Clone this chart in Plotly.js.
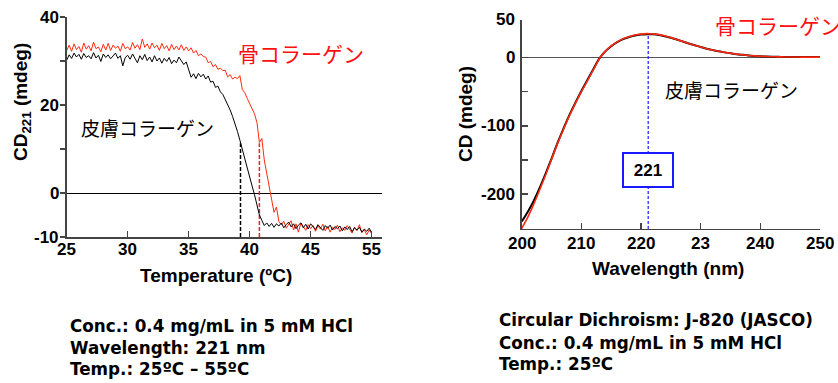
<!DOCTYPE html>
<html><head><meta charset="utf-8">
<script src="https://cdn.plot.ly/plotly-3.0.1.min.js"></script>
<style>html,body{margin:0;padding:0;background:#fff}#plot{width:838px;height:383px}</style>
</head><body><div id="plot"></div>
<script>
// ---- Left panel: thermal melting at 221 nm ----
const temps = [25.0,25.2,25.4,25.6,25.8,26.0,26.2,26.4,26.6,26.8,27.0,27.2,27.4,27.6,27.8,28.0,28.2,28.4,28.6,28.8,29.0,29.2,29.4,29.6,29.8,30.0,30.2,30.4,30.6,30.8,31.0,31.2,31.4,31.6,31.8,32.0,32.2,32.4,32.6,32.8,33.0,33.2,33.4,33.6,33.8,34.0,34.2,34.4,34.6,34.8,35.0,35.2,35.4,35.6,35.8,36.0,36.2,36.4,36.6,36.8,37.0,37.2,37.4,37.6,37.8,38.0,38.2,38.4,38.6,38.8,39.0,39.2,39.4,39.6,39.8,40.0,40.2,40.4,40.6,40.8,41.0,41.2,41.4,41.6,41.8,42.0,42.2,42.4,42.6,42.8,43.0,43.2,43.4,43.6,43.8,44.0,44.2,44.4,44.6,44.8,45.0,45.2,45.4,45.6,45.8,46.0,46.2,46.4,46.6,46.8,47.0,47.2,47.4,47.6,47.8,48.0,48.2,48.4,48.6,48.8,49.0,49.2,49.4,49.6,49.8,50.0];
const skinMelt = [30.2,31.4,30.6,31.8,30.9,31.5,30.4,31.7,30.8,31.2,30.5,31.9,30.7,31.3,29.9,31.6,30.8,31.4,30.5,31.1,31.8,30.6,31.2,28.9,30.8,
 31.3,30.4,31.6,30.7,29.6,31.2,30.3,31.5,30.1,30.9,29.8,31.2,30.0,30.7,29.5,30.6,29.9,30.8,29.4,30.2,29.6,30.9,30.1,29.2,29.8,
 27.8,26.3,27.1,26.0,27.2,26.4,27.0,25.9,26.6,25.2,25.4,24.0,24.3,23.0,22.4,21.2,20.4,18.9,17.4,15.8,14.0,12.0,9.8,7.6,5.6,
 3.8,1.6,-0.4,-3.0,-5.0,-6.2,-7.4,-6.8,-7.6,-6.9,-7.8,-7.0,-7.5,-6.8,-7.9,-7.2,-6.6,-7.7,-7.0,-8.1,-7.3,-6.8,-7.9,-7.1,-8.2,
 -7.0,-7.6,-8.3,-7.2,-7.8,-8.5,-7.4,-8.0,-7.3,-8.4,-7.6,-8.1,-7.5,-8.6,-7.7,-8.3,-7.6,-8.8,-7.9,-8.4,-7.8,-8.9,-8.2,-8.7,-8.0,-9.0];
const boneMelt = [32.4,33.6,32.2,33.9,32.6,33.3,32.0,34.1,32.7,33.5,32.3,34.3,32.8,33.2,32.1,33.8,32.5,34.0,32.4,33.6,32.9,33.4,32.2,34.0,32.8,
 33.2,32.5,34.2,32.9,33.7,32.6,35.0,33.1,33.9,32.7,34.1,33.0,33.6,32.4,34.0,32.8,33.5,32.3,33.8,32.6,33.4,32.5,33.7,32.4,33.2,
 32.3,33.0,31.8,32.4,31.2,31.6,31.0,30.9,29.6,29.9,28.7,29.2,28.1,28.4,27.8,27.9,26.4,26.9,25.9,26.3,26.0,26.7,23.5,22.8,21.5,
 20.4,19.4,18.0,16.0,11.5,12.4,7.5,4.5,1.8,-1.6,-4.4,-3.2,-6.5,-7.2,-6.4,-8.0,-7.1,-6.3,-8.4,-7.0,-8.9,-6.8,-7.6,-8.5,-7.2,
 -8.1,-7.4,-8.7,-7.5,-8.2,-7.1,-8.6,-7.6,-8.9,-7.8,-8.3,-7.3,-8.8,-7.9,-8.5,-7.4,-8.2,-9.1,-7.8,-8.6,-7.2,-9.0,-8.3,-9.5,-8.4,-9.2];
const tmSkin = [39.25, 39.25];
const tmBone = [40.8, 40.8];
const tmY = [-10, 11.3];
const tempTickVals = [25, 30, 35, 40, 45, 50];
const tempTickText = ['25', '30', '35', '40', '45', '55'];
const cdTickVals = [-10, 0, 20, 40];
const cdTickText = ['-10', '0', '20', '40'];
const cdMinorVals = [10, 30];

// ---- Right panel: CD spectra ----
const wavelength = [200,201,202,203,204,205,206,207,208,209,210,211,212,213,214,215,216,217,218,219,220,221,222,223,224,225,226,227,228,229,230,231,232,233,234,235,236,237,238,239,240,241,242,243,244,245,246,247,248,249,250];
const boneSpec = [-250,-234,-215,-194,-172,-149,-126,-105,-85,-67,-50,-34,-18,-2,9,17,23,27.5,30.5,33,34.3,35,34.6,33.6,31.6,29.2,26.5,23.5,20.6,18,15.5,13,11,9.2,7.6,6.2,5,4,3.1,2.4,1.9,1.5,1.2,1,0.9,0.8,0.8,0.7,0.7,0.7,0.7];
const skinSpec = [-240,-226,-210,-191,-170,-148,-125,-104,-84,-66,-49,-33,-17,-1.5,9,16.5,22.5,27,30,32.3,33.6,34.2,34,33.1,31.3,29,26.4,23.4,20.6,18,15.5,13,11,9.2,7.6,6.2,5,4,3.1,2.4,1.9,1.5,1.2,1,0.9,0.8,0.8,0.7,0.7,0.7,0.7];
const peakWl = [221.2, 221.2];
const peakY = [-251, 35];
const wlTickVals = [200, 210, 220, 230, 240, 250];
const wlTickText = ['200', '210', '220', '23', '240', '250'];
const specTickVals = [55, 0, -100, -200];
const specTickText = ['50', '0', '-100', '-200'];
const specMinorVals = [-50, -150];

const sansB = '"Liberation Sans", Arial, sans-serif';
const tickFont = {family: sansB, size: 17, color: '#000', weight: 700};
const titleFont = {family: sansB, size: 19, color: '#000', weight: 700};
const jp = '"Noto Sans CJK JP", sans-serif';

const traces = [
  {x: tmSkin, y: tmY, xaxis: 'x', yaxis: 'y', mode: 'lines', line: {color: '#000', width: 1.5, dash: '4px,2px'}, hoverinfo: 'skip'},
  {x: tmBone, y: tmY, xaxis: 'x', yaxis: 'y', mode: 'lines', line: {color: '#ff1a1a', width: 1.5, dash: '4px,2px'}, hoverinfo: 'skip'},
  {x: temps, y: boneMelt, xaxis: 'x', yaxis: 'y', mode: 'lines', line: {color: '#ff2a10', width: 1}},
  {x: temps, y: skinMelt, xaxis: 'x', yaxis: 'y', mode: 'lines', line: {color: '#000', width: 1}},
  {x: peakWl, y: peakY, xaxis: 'x2', yaxis: 'y2', mode: 'lines', line: {color: '#1a1aff', width: 1.2, dash: '3px,2px'}},
  {x: wavelength, y: skinSpec, xaxis: 'x2', yaxis: 'y2', mode: 'lines', line: {color: '#000', width: 2, shape: 'spline'}},
  {x: wavelength, y: boneSpec, xaxis: 'x2', yaxis: 'y2', mode: 'lines', line: {color: '#ff2a10', width: 1.6, shape: 'spline'}}
];

const axisCommon = {showgrid: false, showline: true, linecolor: '#444', linewidth: 1.5, tickcolor: '#444', tickwidth: 1.5, showticklabels: false, tickmode: 'array', fixedrange: true};

const ann = (text, x, y, opts) => Object.assign({text: text, x: x, y: y, xref: 'paper', yref: 'paper', showarrow: false, xanchor: 'center', yanchor: 'middle'}, opts || {});
const noteFont = {family: '"DejaVu Sans", sans-serif', size: 16.8, color: '#000', weight: 700};

// bold tick labels placed through the axes
const tickAnns = [].concat(
  tempTickVals.map((v, i) => ({text: tempTickText[i], x: v, xref: 'x', y: 0.3473, yref: 'paper', showarrow: false, xanchor: 'center', yanchor: 'middle', font: tickFont})),
  cdTickVals.map((v, i) => ({text: cdTickText[i], x: 0.0722, xref: 'paper', y: v, yref: 'y', showarrow: false, xanchor: 'right', yanchor: 'middle', font: tickFont})),
  wlTickVals.map((v, i) => ({text: wlTickText[i], x: v, xref: 'x2', y: 0.3655, yref: 'paper', showarrow: false, xanchor: 'center', yanchor: 'middle', font: tickFont})),
  specTickVals.map((v, i) => ({text: specTickText[i], x: 0.6175, xref: 'paper', y: v, yref: 'y2', showarrow: false, xanchor: 'right', yanchor: 'middle', font: tickFont}))
);

const layout = {
  width: 838, height: 383,
  margin: {l: 0, r: 0, t: 0, b: 0},
  paper_bgcolor: '#fff', plot_bgcolor: '#fff',
  showlegend: false,
  xaxis: Object.assign({}, axisCommon, {domain: [0.0796, 0.4558], range: [25, 50.85], tickvals: tempTickVals, ticks: 'inside', ticklen: 6, zeroline: false, anchor: 'y'}),
  yaxis: Object.assign({}, axisCommon, {domain: [0.3812, 0.9556], range: [-10, 40], tickvals: cdTickVals, ticks: 'outside', ticklen: 5,
    minor: {tickmode: 'array', tickvals: cdMinorVals, ticks: 'outside', ticklen: 5, tickcolor: '#444', tickwidth: 1.5, showgrid: false},
    zeroline: true, zerolinecolor: '#000', zerolinewidth: 1, anchor: 'x'}),
  xaxis2: Object.assign({}, axisCommon, {domain: [0.6226, 0.9785], range: [200, 250], tickvals: wlTickVals, ticks: 'inside', ticklen: 6, zeroline: false, anchor: 'y2'}),
  yaxis2: Object.assign({}, axisCommon, {domain: [0.4021, 0.9478], range: [-251, 55], tickvals: specTickVals, ticks: 'inside', ticklen: 6,
    minor: {tickmode: 'array', tickvals: specMinorVals, ticks: 'inside', ticklen: 6, tickcolor: '#444', tickwidth: 1.5, showgrid: false},
    zeroline: true, zerolinecolor: '#555', zerolinewidth: 1.5, anchor: 'x2'}),
  annotations: tickAnns.concat([
    ann('CD<sub>221</sub> (mdeg)', 0.0263, 0.7337, {textangle: -90, font: titleFont}),
    ann('Temperature (ºC)', 0.2578, 0.280, {font: titleFont}),
    ann('CD (mdeg)', 0.5549, 0.7023, {textangle: -90, font: titleFont}),
    ann('Wavelength (nm)', 0.7966, 0.300, {font: titleFont}),
    ann('骨コラーゲン', 0.3586, 0.8616, {font: {family: jp, size: 21, color: '#ff1010'}}),
    ann('皮膚コラーゲン', 0.176, 0.6658, {font: {family: jp, size: 19, color: '#000'}}),
    ann('皮膚コラーゲン', 0.8729, 0.7676, {font: {family: jp, size: 19, color: '#000'}}),
    ann('骨コラーゲン', 0.8508, 0.9347, {xanchor: 'left', font: {family: jp, size: 21, color: '#ff1010'}}),
    {text: '221', x: 221.2, y: -164, xref: 'x2', yref: 'y2', showarrow: false, xanchor: 'center', yanchor: 'middle', width: 46, height: 30, bordercolor: '#1a1aff', borderwidth: 2, bgcolor: '#fff', font: {family: sansB, size: 17, color: '#000', weight: 700}},
    ann('Conc.: 0.4 mg/mL in 5 mM HCl', 0.0811, 0.1488, {xanchor: 'left', font: noteFont}),
    ann('Wavelength: 221 nm', 0.0811, 0.0914, {xanchor: 'left', font: noteFont}),
    ann('Temp.: 25ºC – 55ºC', 0.0811, 0.0366, {xanchor: 'left', font: noteFont}),
    ann('Circular Dichroism: J-820 (JASCO)', 0.5931, 0.1645, {xanchor: 'left', font: noteFont}),
    ann('Conc.: 0.4 mg/mL in 5 mM HCl', 0.5931, 0.1044, {xanchor: 'left', font: noteFont}),
    ann('Temp.: 25ºC', 0.5931, 0.0496, {xanchor: 'left', font: noteFont})
  ])
};

Plotly.newPlot('plot', traces, layout, {displayModeBar: false, staticPlot: true});
</script>
</body></html>
